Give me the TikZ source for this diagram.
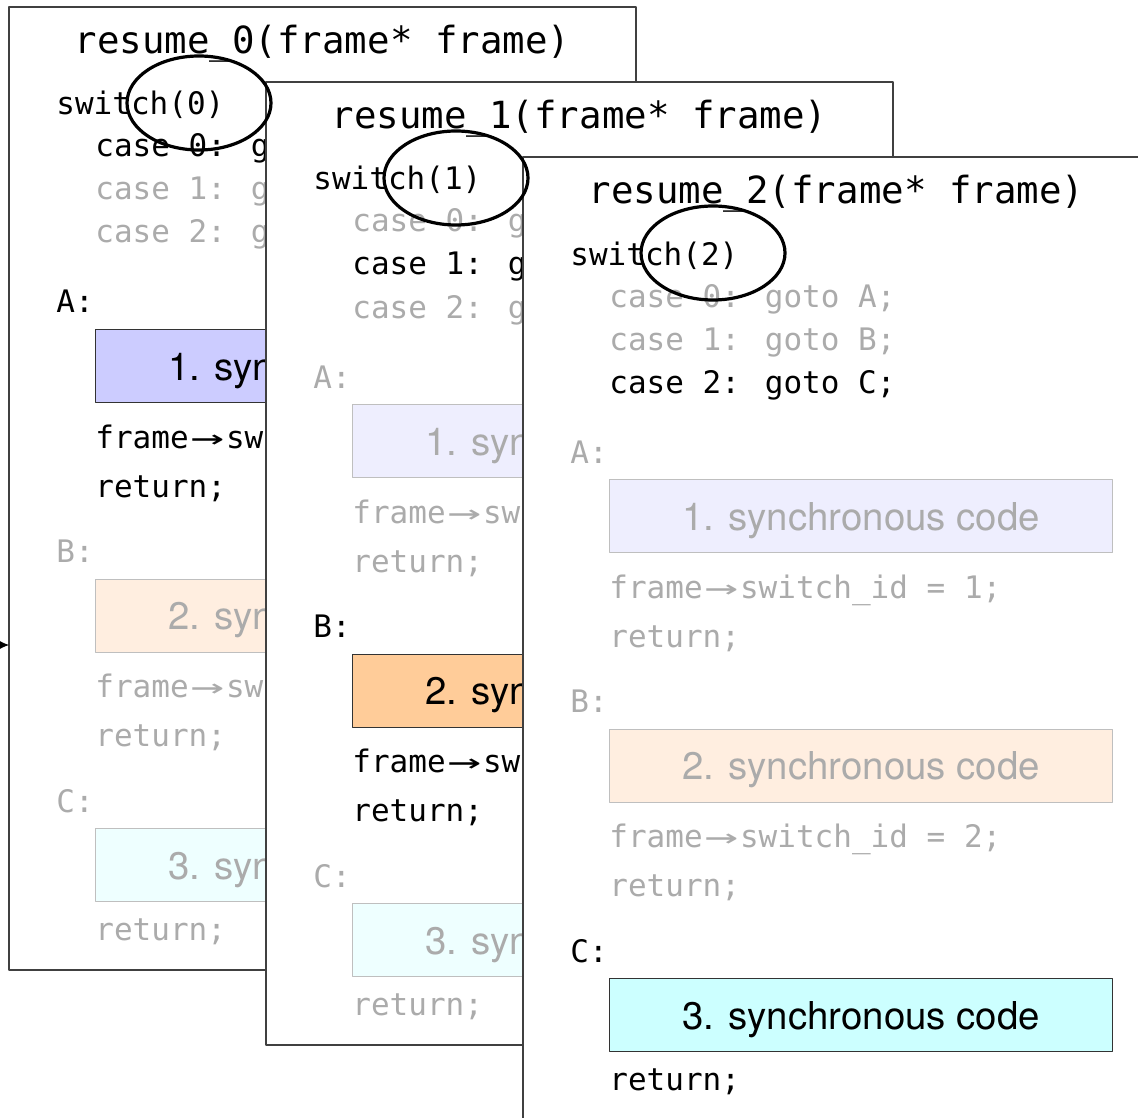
\documentclass[tikz,border=0pt]{standalone}
\usepackage{fontspec}
\setmainfont{TeX Gyre Heros}
\newfontfamily\codefont{DejaVu Sans Mono}
\usetikzlibrary{arrows.meta,shapes.geometric}
\definecolor{dimtext}{HTML}{ABABAB}
\definecolor{boxA}{HTML}{CCCCFF}
\definecolor{boxAdim}{HTML}{EEEEFE}
\definecolor{boxB}{HTML}{FFCC99}
\definecolor{boxBdim}{HTML}{FFEEE0}
\definecolor{boxC}{HTML}{CCFFFF}
\definecolor{boxCdim}{HTML}{EEFFFF}
\newcommand{\ptrarrow}{\makebox[1.204em]{\scalebox{1.8}[1]{→}}}
\tikzset{
  panel/.style={anchor=north west,draw=black!75,fill=white,line width=0.8pt,
    minimum width=313.5pt,minimum height=481.5pt,inner sep=0pt,outer sep=0pt},
  title/.style={anchor=base,inner sep=0pt,font=\codefont\fontsize{18.7}{20}\selectfont},
  code/.style={anchor=base west,inner sep=0pt,font=\codefont\fontsize{15.5}{18}\selectfont},
  dim/.style={text=dimtext},
  syncode/.style={anchor=north west,draw=black!80,line width=0.6pt,inner sep=0pt,
    text depth=0pt,minimum width=251.5pt,minimum height=36.5pt,
    font=\fontsize{19.2}{22}\selectfont},
  dimbox/.style={draw=black!25,text=dimtext},
  ring/.style={ellipse,draw,line width=1.6pt,inner sep=0pt,
    minimum width=72pt,minimum height=47pt}
}
\begin{document}
\begin{tikzpicture}[x=0.5pt,y=-0.5pt,line join=round]
\useasboundingbox (0,0) rectangle (1138,1117);
\clip (0,0) rectangle (1138,1117);
% resume_0
\begin{scope}[shift={(9,7)}]
\node[panel] (p0) at (0,0) {};
\node[title] (t0) at (313.5,47) {resume\_0(frame* frame)};
\node[code] (sw0) at (47,108) {switch(0)};
\node[code] (c00) at (86,150) {case 0: goto A;};
\node[code,dim] (c01) at (86,193) {case 1: goto B;};
\node[code,dim] (c02) at (86,236) {case 2: goto C;};
\node[code] (la0) at (47,306) {A:};
\node[syncode,fill=boxA] (sa0) at (86,322) {1. synchronous code};
\node[code] (fa0) at (86,441) {frame\ptrarrow switch\_id = 1;};
\node[code] (ra0) at (86,490) {return;};
\node[code,dim] (lb0) at (47,555.5) {B:};
\node[syncode,dimbox,fill=boxBdim] (sb0) at (86,571.5) {2. synchronous code};
\node[code,dim] (fb0) at (86,690.5) {frame\ptrarrow switch\_id = 2;};
\node[code,dim] (rb0) at (86,739.5) {return;};
\node[code,dim] (lc0) at (47,805) {C:};
\node[syncode,dimbox,fill=boxCdim] (sc0) at (86,821) {3. synchronous code};
\node[code,dim] (rc0) at (86,933) {return;};
\end{scope}
% resume_1
\begin{scope}[shift={(266,82)}]
\node[panel] (p1) at (0,0) {};
\node[title] (t1) at (313.5,47) {resume\_1(frame* frame)};
\node[code] (sw1) at (47,108) {switch(1)};
\node[code,dim] (c10) at (86,150) {case 0: goto A;};
\node[code] (c11) at (86,193) {case 1: goto B;};
\node[code,dim] (c12) at (86,236) {case 2: goto C;};
\node[code,dim] (la1) at (47,306) {A:};
\node[syncode,dimbox,fill=boxAdim] (sa1) at (86,322) {1. synchronous code};
\node[code,dim] (fa1) at (86,441) {frame\ptrarrow switch\_id = 1;};
\node[code,dim] (ra1) at (86,490) {return;};
\node[code] (lb1) at (47,555.5) {B:};
\node[syncode,fill=boxB] (sb1) at (86,571.5) {2. synchronous code};
\node[code] (fb1) at (86,690.5) {frame\ptrarrow switch\_id = 2;};
\node[code] (rb1) at (86,739.5) {return;};
\node[code,dim] (lc1) at (47,805) {C:};
\node[syncode,dimbox,fill=boxCdim] (sc1) at (86,821) {3. synchronous code};
\node[code,dim] (rc1) at (86,933) {return;};
\end{scope}
% resume_2
\begin{scope}[shift={(523,157)}]
\node[panel] (p2) at (0,0) {};
\node[title] (t2) at (313.5,47) {resume\_2(frame* frame)};
\node[code] (sw2) at (47,108) {switch(2)};
\node[code,dim] (c20) at (86,150) {case 0: goto A;};
\node[code,dim] (c21) at (86,193) {case 1: goto B;};
\node[code] (c22) at (86,236) {case 2: goto C;};
\node[code,dim] (la2) at (47,306) {A:};
\node[syncode,dimbox,fill=boxAdim] (sa2) at (86,322) {1. synchronous code};
\node[code,dim] (fa2) at (86,441) {frame\ptrarrow switch\_id = 1;};
\node[code,dim] (ra2) at (86,490) {return;};
\node[code,dim] (lb2) at (47,555.5) {B:};
\node[syncode,dimbox,fill=boxBdim] (sb2) at (86,571.5) {2. synchronous code};
\node[code,dim] (fb2) at (86,690.5) {frame\ptrarrow switch\_id = 2;};
\node[code,dim] (rb2) at (86,739.5) {return;};
\node[code] (lc2) at (47,805) {C:};
\node[syncode,fill=boxC] (sc2) at (86,821) {3. synchronous code};
\node[code] (rc2) at (86,933) {return;};
\end{scope}
% rings round the switch values
\node[ring] (e0) at (199,103) {};
\node[ring] (e1) at (456,178) {};
\node[ring] (e2) at (713,253) {};
% entry arrow
\coordinate (in0) at (-14,645);
\draw[-{Latex[length=5pt,width=4.5pt]}] (in0) -- (in0 -| p0.west);
\end{tikzpicture}
\end{document}
